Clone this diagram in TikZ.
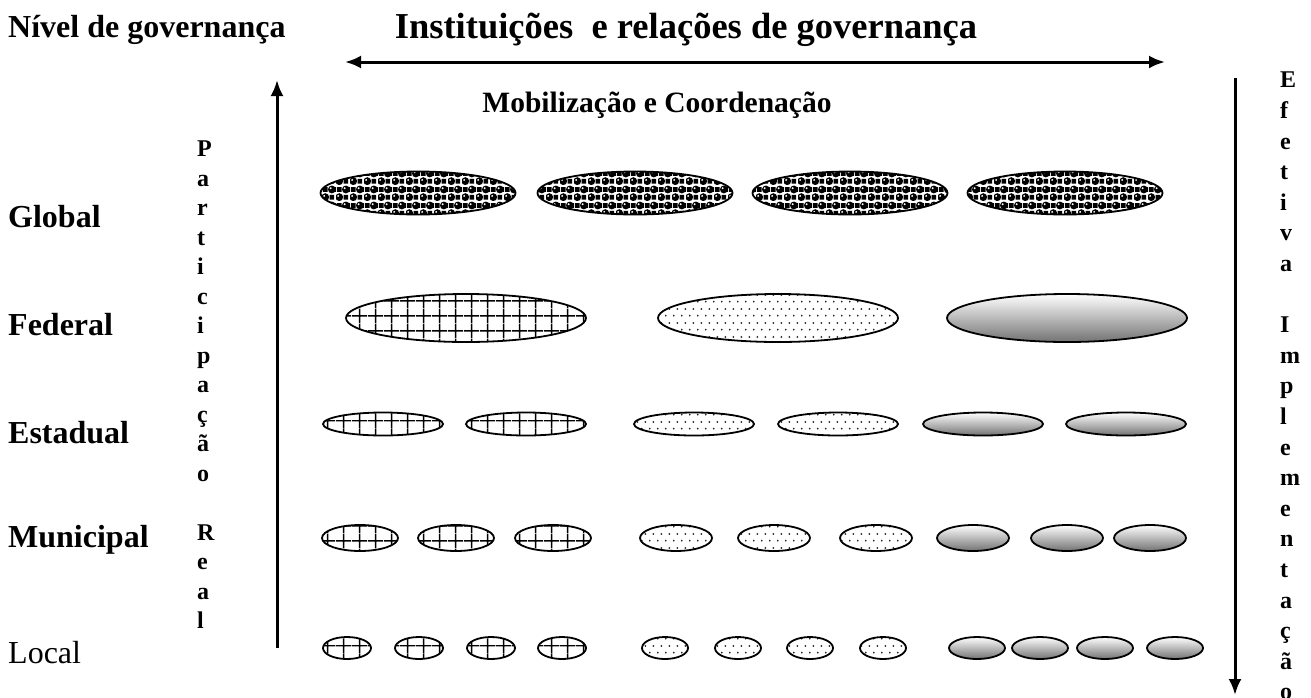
\documentclass[tikz,border=0pt]{standalone}
\usepackage{fontspec}
\setmainfont{Liberation Serif}
\usetikzlibrary{patterns,arrows.meta,shapes.geometric}

% black spheres on a small checkerboard
\pgfdeclarepatterninherentlycolored{balls}{\pgfpointorigin}{\pgfpoint{14pt}{16pt}}{\pgfpoint{14pt}{16pt}}{%
  \pgfsetfillcolor{black}%
  \pgfpathrectangle{\pgfpoint{8pt}{1.5pt}}{\pgfpoint{5pt}{5pt}}%
  \pgfpathrectangle{\pgfpoint{1pt}{9.5pt}}{\pgfpoint{5pt}{5pt}}%
  \pgfusepath{fill}%
  \pgfpathcircle{\pgfpoint{3.5pt}{4pt}}{4.1pt}%
  \pgfpathcircle{\pgfpoint{10.5pt}{12pt}}{4.1pt}%
  \pgfusepath{fill}%
  \pgfsetfillcolor{white}%
  \pgfpathcircle{\pgfpoint{2.3pt}{5.3pt}}{1.1pt}%
  \pgfpathcircle{\pgfpoint{9.3pt}{13.3pt}}{1.1pt}%
  \pgfusepath{fill}%
}
% square grid
\pgfdeclarepatternformonly{gridhatch}{\pgfpointorigin}{\pgfpoint{16pt}{15pt}}{\pgfpoint{16pt}{15pt}}{%
  \pgfsetlinewidth{1.5pt}%
  \pgfpathmoveto{\pgfpoint{8pt}{0pt}}\pgfpathlineto{\pgfpoint{8pt}{15pt}}%
  \pgfpathmoveto{\pgfpoint{0pt}{7.5pt}}\pgfpathlineto{\pgfpoint{16pt}{7.5pt}}%
  \pgfusepath{stroke}%
}
% staggered fine dots
\pgfdeclarepatternformonly{finedots}{\pgfpointorigin}{\pgfpoint{8pt}{14pt}}{\pgfpoint{8pt}{14pt}}{%
  \pgfpathcircle{\pgfpoint{2pt}{3.5pt}}{1.05pt}%
  \pgfpathcircle{\pgfpoint{6pt}{10.5pt}}{1.05pt}%
  \pgfusepath{fill}%
}

\tikzset{
  lvl/.style={font=\bfseries\fontsize{32}{38}\selectfont, anchor=west, inner sep=0pt},
  head/.style={font=\bfseries\fontsize{32}{38}\selectfont, inner sep=0pt},
  vtext/.style={font=\bfseries\fontsize{24}{29.5}\selectfont, align=left, anchor=north west, inner sep=0pt},
  cell/.style={ellipse, draw=black, line width=1.8pt, inner sep=0pt},
  ballcell/.style={cell, pattern=balls},
  gridcell/.style={cell, pattern=gridhatch, pattern color=black},
  dotcell/.style={cell, pattern=finedots, pattern color=black!85},
  shadecell/.style={cell, top color=white, bottom color=black!55},
  axis/.style={line width=3pt, -{Latex[length=16pt,width=13pt]}},
}

\begin{document}
\begin{tikzpicture}[x=1pt,y=-1pt]
\useasboundingbox (0,0) rectangle (1311,697);

% headings
\node[lvl] (nivel) at (8,30) {Nível de governança};
\node[head, font=\bfseries\fontsize{36.5}{42}\selectfont] (inst) at (686,30) {Instituições \ e relações de governança};
\node[head, font=\bfseries\fontsize{29.5}{35}\selectfont] (mob) at (657,105) {Mobilização e Coordenação};

% axes
\coordinate (hl) at (345,62);
\coordinate (hr) at (1165,62);
\draw[line width=3pt, {Latex[length=16pt,width=13pt]}-{Latex[length=16pt,width=13pt]}] (hl) -- (hr);
\coordinate (ub) at (277,648);
\coordinate (ut) at (277,80);
\draw[axis] (ub) -- (ut);
\coordinate (dt) at (1235,78);
\coordinate (db) at (1235,695);
\draw[axis] (dt) -- (db);

% level labels
\node[lvl] (global) at (8,217) {Global};
\node[lvl] (federal) at (8,325) {Federal};
\node[lvl] (estadual) at (8,433) {Estadual};
\node[lvl] (municipal) at (8,540) {Municipal};
\node[lvl, font=\fontsize{32}{38}\selectfont] (local) at (8,653) {Local};

% vertical labels
\node[vtext] (part) at (197,141) {P\\a\\r\\t\\i\\c\\i\\p\\a\\ç\\ã\\o\\\strut\\R\\e\\a\\l};
\node[vtext, font=\bfseries\fontsize{24}{30.6}\selectfont] (efet) at (1280,72) {E\\f\\e\\t\\i\\v\\a\\\strut\\I\\m\\p\\l\\e\\m\\e\\n\\t\\a\\ç\\ã\\o};

% global row
\foreach \x [count=\i] in {418,635,850,1065}
  \node[ballcell, minimum width=195pt, minimum height=43pt] (g\i) at (\x,193) {};

% federal row
\node[gridcell, minimum width=240pt, minimum height=48pt] (f1) at (466,318) {};
\node[dotcell, minimum width=240pt, minimum height=48pt] (f2) at (778,318) {};
\node[shadecell, minimum width=240pt, minimum height=48pt] (f3) at (1067,318) {};

% state row
\foreach \x [count=\i] in {383,526}
  \node[gridcell, minimum width=120pt, minimum height=23pt] (eg\i) at (\x,424) {};
\foreach \x [count=\i] in {694,838}
  \node[dotcell, minimum width=120pt, minimum height=23pt] (ed\i) at (\x,424) {};
\foreach \x [count=\i] in {983,1126}
  \node[shadecell, minimum width=120pt, minimum height=23pt] (es\i) at (\x,424) {};

% municipal row
\foreach \x [count=\i] in {360,456,553}
  \node[gridcell, minimum width=76pt, minimum height=26pt] (mg\i) at (\x,538) {};
\foreach \x [count=\i] in {676,774,876}
  \node[dotcell, minimum width=72pt, minimum height=26pt] (md\i) at (\x,538) {};
\foreach \x [count=\i] in {973,1067,1150}
  \node[shadecell, minimum width=72pt, minimum height=26pt] (ms\i) at (\x,538) {};

% local row
\foreach \x [count=\i] in {347,419,491,562}
  \node[gridcell, minimum width=48pt, minimum height=22pt] (lg\i) at (\x,648) {};
\foreach \x [count=\i] in {665,738,810,883}
  \node[dotcell, minimum width=46pt, minimum height=22pt] (ld\i) at (\x,648) {};
\foreach \x [count=\i] in {977,1040,1105,1175}
  \node[shadecell, minimum width=56pt, minimum height=22pt] (ls\i) at (\x,648) {};
\end{tikzpicture}
\end{document}
